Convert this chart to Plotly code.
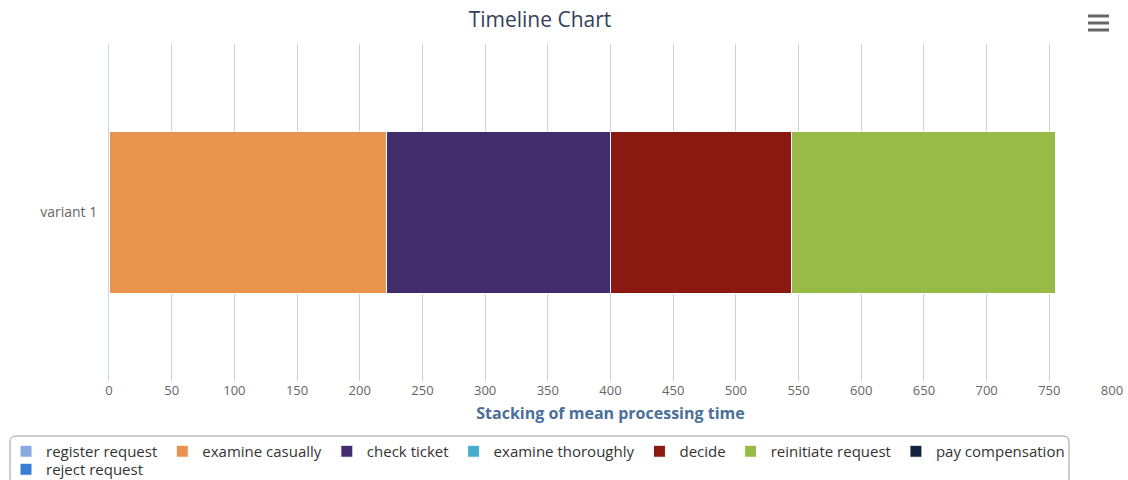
import plotly.graph_objects as go

categories = ["variant 1"]
series_names = ["register request", "examine casually", "check ticket", "examine thoroughly",
                "decide", "reinitiate request", "pay compensation", "reject request"]
series_values = [[0], [221], [179], [0], [144], [211], [0], [0]]
series_colors = ["#8aa9e1", "#e8944f", "#432c6b", "#46adcd", "#8a1a11", "#97bb46", "#10233f", "#3a7dd4"]
series_legend = ["legend"] * 7 + ["legend2"]
x_ticks = list(range(0, 801, 50))

W, H = 1128, 480
L, R, T, B = 109, 16, 44, 99
pw, ph = W - L - R, H - T - B


def px_x(p):
    return (p - L) / pw


def px_y(p):
    return (H - B - p) / ph


fig = go.Figure()
for name, vals, col, lg in zip(series_names, series_values, series_colors, series_legend):
    fig.add_trace(go.Bar(
        y=categories, x=vals, name=name, orientation="h", legend=lg,
        marker=dict(color=col, line=dict(color="white", width=1)),
    ))

font_family = "Open Sans, Lato, DejaVu Sans, sans-serif"
legend_common = dict(orientation="h", xanchor="left", yanchor="top",
                     borderwidth=0, bgcolor="rgba(0,0,0,0)",
                     font=dict(size=15, color="#333333", family=font_family),
                     itemwidth=30, traceorder="normal")

fig.update_layout(
    width=W, height=H,
    margin=dict(l=L, r=R, t=T, b=B, autoexpand=False),
    barmode="stack", bargap=0.52,
    plot_bgcolor="white", paper_bgcolor="white",
    font=dict(family=font_family, color="#666666", size=13),
    title=dict(text="Timeline Chart", x=px_x(540), xref="paper", xanchor="center",
               y=1 - 20 / H, yanchor="middle",
               font=dict(size=21, color="#333f5b", family=font_family)),
    xaxis=dict(range=[0, 800], tickvals=x_ticks, ticktext=[str(v) for v in x_ticks],
               showgrid=True, gridcolor="#d0d0d0", gridwidth=1, zeroline=False,
               showline=False, ticks="", tickfont=dict(size=13, color="#666666"),
               title=dict(text="<b>Stacking of mean processing time</b>", standoff=9,
                          font=dict(size=16, color="#4a6f98"))),
    yaxis=dict(showgrid=False, zeroline=False, showline=True, linecolor="#ccd6eb", linewidth=1,
               ticks="", tickfont=dict(size=14, color="#666666"), ticklabelstandoff=8),
    showlegend=True,
    legend=dict(x=px_x(6), y=px_y(435), **legend_common),
    legend2=dict(x=px_x(6), y=px_y(453), **legend_common),
)

# legend frame (rounded top corners, extends below the page)
x0, x1 = px_x(10), px_x(1069)
y0, y1 = px_y(436), px_y(490)
rx, ry = 6 / pw, 6 / ph
path = (f"M {x0},{y1} L {x0},{y0 - ry} Q {x0},{y0} {x0 + rx},{y0} "
        f"L {x1 - rx},{y0} Q {x1},{y0} {x1},{y0 - ry} L {x1},{y1}")
fig.add_shape(type="path", xref="paper", yref="paper", path=path,
              line=dict(color="#999999", width=1), layer="below")

# hamburger menu icon
for yy in [16, 23, 30]:
    fig.add_shape(type="line", xref="paper", yref="paper",
                  x0=px_x(1088), x1=px_x(1109), y0=px_y(yy), y1=px_y(yy),
                  line=dict(color="#666666", width=3))

fig.write_html("out.html")
